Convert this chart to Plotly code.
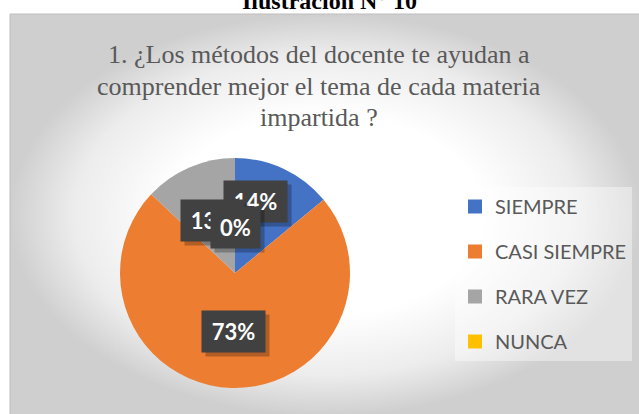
import math
import plotly.graph_objects as go

# ---- data ----
categories = ["SIEMPRE", "CASI SIEMPRE", "RARA VEZ", "NUNCA"]
percentages = [14, 73, 13, 0]
colors = ["#4472C4", "#ED7D31", "#A5A5A5", "#FFC000"]
title_lines = [
    "1. ¿Los métodos del docente te ayudan a",
    "comprender mejor el tema de cada materia",
    "impartida ?",
]
header_text = "Ilustración N° 10"

# ---- layout constants (pixels) ----
W, H = 639, 414
PIE_CX, PIE_CY, PIE_R = 235, 273, 115
label_rfac = [0.65, 0.51, 0.50, 0.40]
label_aoff = [-9, 0, 0, 0]
SERIF = "Liberation Serif, Times New Roman, serif"

fig = go.Figure()

# panel background with radial gradient
fig.add_trace(go.Scatter(
    x=[10, 641, 641, 10, 10], y=[-2, -2, H - 14, H - 14, -2],
    mode="lines", fill="toself",
    line=dict(color="#bdbdbd", width=1),
    fillgradient=dict(type="radial",
                      colorscale=[[0, "#ffffff"], [0.5, "#ffffff"],
                                  [0.8, "#ececec"], [1, "#cfcfcf"]]),
    hoverinfo="skip", showlegend=False,
))

# pie
fig.add_trace(go.Pie(
    labels=categories, values=percentages,
    marker=dict(colors=colors, line=dict(width=0)),
    sort=False, direction="clockwise", rotation=0,
    textinfo="none", hoverinfo="skip", showlegend=False,
    domain=dict(x=[(PIE_CX - PIE_R) / W, (PIE_CX + PIE_R) / W],
                y=[(H - PIE_CY - PIE_R) / H, (H - PIE_CY + PIE_R) / H]),
))

# legend entries
for cat, col in zip(categories, colors):
    fig.add_trace(go.Scatter(
        x=[None], y=[None], mode="markers", name=cat, legendgroup=cat,
        marker=dict(symbol="square", size=14, color=col),
        showlegend=True,
    ))

annotations = []
# header (cut at top)
annotations.append(dict(
    x=329, y=H - 1, xref="x", yref="y", text="<b>" + header_text + "</b>",
    showarrow=False, xanchor="center", yanchor="middle",
    font=dict(family=SERIF, size=24, color="#000000"),
))
# title lines
title_centers = [54, 86, 117]
for line, cy in zip(title_lines, title_centers):
    annotations.append(dict(
        x=319, y=H - cy, xref="x", yref="y", text=line,
        showarrow=False, xanchor="center", yanchor="middle",
        font=dict(family=SERIF, size=26, color="#595959"),
    ))

# data labels
total = sum(percentages)
cum = 0
for i, v in enumerate(percentages):
    mid = (cum + v / 2) / total * 360 + label_aoff[i]
    cum += v
    r = PIE_R * label_rfac[i]
    px = PIE_CX + r * math.sin(math.radians(mid))
    py = PIE_CY - r * math.cos(math.radians(mid))
    txt = f"{v}%"
    bw = 21 + 14 * len(txt)
    bh = 41
    # shadow
    annotations.append(dict(
        x=px + 4, y=H - py - 4, xref="x", yref="y", text=" ",
        showarrow=False, xanchor="center", yanchor="middle",
        width=bw, height=bh, bgcolor="rgba(0,0,0,0.25)", borderpad=0,
    ))
    annotations.append(dict(
        x=px, y=H - py, xref="x", yref="y", text="<b>" + txt + "</b>",
        showarrow=False, xanchor="center", yanchor="middle",
        width=bw, height=bh, bgcolor="#414141", borderpad=0,
        font=dict(family="Lato", size=22, color="#ffffff"),
    ))

fig.update_layout(
    width=W, height=H,
    margin=dict(l=0, r=0, t=0, b=0),
    paper_bgcolor="#ffffff", plot_bgcolor="rgba(0,0,0,0)",
    xaxis=dict(range=[0, W], visible=False, fixedrange=True),
    yaxis=dict(range=[0, H], visible=False, fixedrange=True),
    annotations=annotations,
    showlegend=True,
    legend=dict(
        x=455 / W, y=(H - 187) / H, xanchor="left", yanchor="top",
        bgcolor="rgba(255,255,255,0.4)",
        font=dict(family="Lato", size=20, color="#595959"),
        traceorder="grouped", tracegroupgap=16,
        itemclick=False, itemdoubleclick=False,
    ),
)

fig.write_html(
    "out.html",
    config={"displayModeBar": False},
    post_script="document.body.style.margin='0';document.body.style.overflow='hidden';",
)
